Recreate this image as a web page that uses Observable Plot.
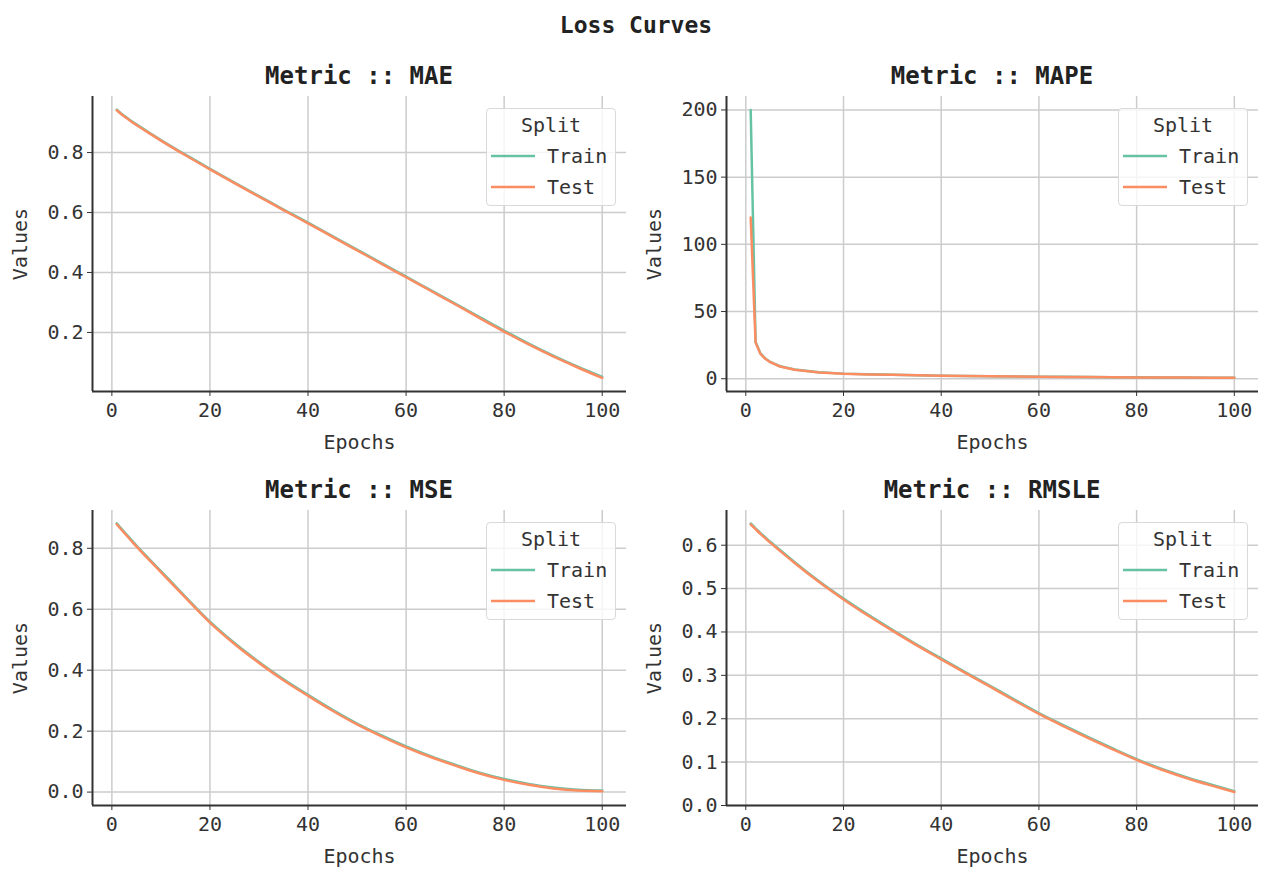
<!DOCTYPE html>
<html>
<head>
<meta charset="utf-8">
<script src="https://cdn.jsdelivr.net/npm/d3@7"></script>
<script src="https://cdn.jsdelivr.net/npm/@observablehq/plot@0.6"></script>
<style>
  html, body { margin: 0; padding: 0; background: #fff; }
  #root { position: relative; width: 1263px; height: 869px; background: #fff; font-family: "DejaVu Sans Mono", monospace; color: #222; overflow: hidden; }
  .title { position: absolute; font-weight: bold; font-size: 23px; line-height: 26px; white-space: nowrap; }
  .ptitle { position: absolute; text-align: center; font-weight: bold; font-size: 24px; line-height: 26px; white-space: nowrap; }
  .panel { position: absolute; }
  .legend { position: absolute; width: 130px; height: 98px; box-sizing: border-box; border: 1px solid #d9d9d9; border-radius: 4px; background: rgba(255,255,255,0.8); }
</style>
</head>
<body>
<div id="root"></div>
<script>
// ---- data ----
const epochs = [1, 2, 3, 4, 5, 7, 10, 15, 20, 25, 30, 35, 40, 45, 50, 55, 60, 65, 70, 75, 80, 85, 90, 95, 100];
const splits = ["Train", "Test"];
const metricNames = ["MAE", "MAPE", "MSE", "RMSLE"];
const xTicks = [0, 20, 40, 60, 80, 100];

const maeTrain = [0.943, 0.929, 0.917, 0.905, 0.894, 0.873, 0.842, 0.793, 0.746, 0.700, 0.655, 0.610, 0.566, 0.521, 0.476, 0.431, 0.386, 0.341, 0.296, 0.251, 0.206, 0.163, 0.123, 0.086, 0.052];
const maeTest  = [0.941, 0.927, 0.915, 0.903, 0.892, 0.871, 0.840, 0.791, 0.744, 0.698, 0.653, 0.608, 0.564, 0.519, 0.474, 0.429, 0.384, 0.339, 0.294, 0.248, 0.203, 0.160, 0.120, 0.083, 0.048];

const mapeTrain = [200, 27.5, 18.8, 15.0, 12.5, 9.3, 6.9, 4.8, 3.8, 3.3, 2.95, 2.55, 2.25, 2.05, 1.85, 1.7, 1.55, 1.4, 1.3, 1.15, 1.05, 0.95, 0.9, 0.8, 0.75];
const mapeTest  = [120, 27.0, 18.5, 14.8, 12.3, 9.1, 6.7, 4.7, 3.7, 3.2, 2.9, 2.5, 2.2, 2.0, 1.8, 1.65, 1.5, 1.35, 1.25, 1.1, 1.0, 0.9, 0.85, 0.75, 0.7];

const mseTrain = [0.882, 0.863, 0.845, 0.827, 0.809, 0.775, 0.725, 0.641, 0.559, 0.489, 0.427, 0.370, 0.319, 0.270, 0.225, 0.186, 0.150, 0.118, 0.090, 0.064, 0.043, 0.027, 0.015, 0.008, 0.005];
const mseTest  = [0.879, 0.860, 0.842, 0.824, 0.806, 0.772, 0.722, 0.638, 0.556, 0.486, 0.424, 0.367, 0.316, 0.267, 0.222, 0.183, 0.147, 0.115, 0.087, 0.061, 0.040, 0.024, 0.012, 0.005, 0.003];

const rmsleTrain = [0.650, 0.639, 0.628, 0.618, 0.608, 0.589, 0.561, 0.517, 0.477, 0.440, 0.405, 0.371, 0.339, 0.307, 0.276, 0.244, 0.213, 0.185, 0.158, 0.132, 0.107, 0.085, 0.066, 0.049, 0.033];
const rmsleTest  = [0.648, 0.637, 0.626, 0.616, 0.606, 0.587, 0.559, 0.515, 0.475, 0.438, 0.403, 0.369, 0.337, 0.305, 0.274, 0.242, 0.211, 0.183, 0.156, 0.130, 0.105, 0.083, 0.064, 0.047, 0.031];

const maeTicks = [0.2, 0.4, 0.6, 0.8];
const mapeTicks = [0, 50, 100, 150, 200];
const mseTicks = [0.0, 0.2, 0.4, 0.6, 0.8];
const rmsleTicks = [0.0, 0.1, 0.2, 0.3, 0.4, 0.5, 0.6];

// ---- styling ----
const COLORS = {Train: "#66c2a5", Test: "#fc8d62"};
const FONT = "DejaVu Sans Mono";
const root = document.getElementById("root");

const mainTitle = document.createElement("div");
mainTitle.className = "title";
mainTitle.textContent = "Loss Curves";
mainTitle.style.left = "636px";
mainTitle.style.top = "12px";
mainTitle.style.transform = "translateX(-50%)";
root.appendChild(mainTitle);

function rows(train, test) {
  const out = [];
  epochs.forEach((e, i) => out.push({epoch: e, value: train[i], split: "Train"}));
  epochs.forEach((e, i) => out.push({epoch: e, value: test[i], split: "Test"}));
  return out;
}

const panels = [
  {name: metricNames[0], train: maeTrain, test: maeTest, ticks: maeTicks, domain: [0.003, 0.987], fmt: d => d.toFixed(1), col: 0, row: 0, curve: "monotone-x"},
  {name: metricNames[1], train: mapeTrain, test: mapeTest, ticks: mapeTicks, domain: [-9.5, 210], fmt: d => String(d), col: 1, row: 0, curve: "linear"},
  {name: metricNames[2], train: mseTrain, test: mseTest, ticks: mseTicks, domain: [-0.044, 0.924], fmt: d => d.toFixed(1), col: 0, row: 1, curve: "monotone-x"},
  {name: metricNames[3], train: rmsleTrain, test: rmsleTest, ticks: rmsleTicks, domain: [0.0, 0.68], fmt: d => d.toFixed(1), col: 1, row: 1, curve: "monotone-x"}
];

const ML = 92, MR = 5, MT = 10, MB = 62, PH = 295;
const xDomain = [-3.95, 104.95];

panels.forEach(p => {
  const svgLeft = p.col === 0 ? 0 : 634;
  const width = p.col === 0 ? 631 : 629;
  const plotTop = p.row === 0 ? 96 : 510;
  const svgTop = plotTop - MT;
  const data = rows(p.train, p.test);

  const chart = Plot.plot({
    width,
    height: MT + PH + MB,
    marginLeft: ML, marginRight: MR, marginTop: MT, marginBottom: MB,
    style: {fontFamily: FONT, fontSize: "20px", color: "#333", background: "transparent", overflow: "visible"},
    x: {domain: xDomain},
    y: {domain: p.domain},
    marks: [
      Plot.gridX(xTicks, {stroke: "#cccccc", strokeOpacity: 1, strokeWidth: 1.5}),
      Plot.gridY(p.ticks, {stroke: "#cccccc", strokeOpacity: 1, strokeWidth: 1.5}),
      Plot.line(data.filter(d => d.split === "Train"), {x: "epoch", y: "value", stroke: COLORS.Train, strokeWidth: 2.5, curve: p.curve}),
      Plot.line(data.filter(d => d.split === "Test"), {x: "epoch", y: "value", stroke: COLORS.Test, strokeWidth: 2.5, curve: p.curve}),
      Plot.ruleX([xDomain[0]], {stroke: "#333", strokeWidth: 2}),
      Plot.ruleY([p.domain[0]], {stroke: "#333", strokeWidth: 2}),
      Plot.axisX(xTicks, {tickSize: 5, tickPadding: 6, tickFormat: d => String(d), label: "Epochs", labelAnchor: "center", labelArrow: "none", labelOffset: 57}),
      Plot.axisY(p.ticks, {tickSize: 5, tickPadding: 4, tickFormat: p.fmt, label: "Values", labelAnchor: "center", labelArrow: "none", labelOffset: 80})
    ]
  });
  const wrap = document.createElement("div");
  wrap.className = "panel";
  wrap.style.left = svgLeft + "px";
  wrap.style.top = svgTop + "px";
  wrap.appendChild(chart);
  root.appendChild(wrap);

  const axLeft = svgLeft + ML;
  const axRight = svgLeft + width - MR;

  const t = document.createElement("div");
  t.className = "ptitle";
  t.textContent = "Metric :: " + p.name;
  t.style.left = axLeft + "px";
  t.style.width = (axRight - axLeft) + "px";
  t.style.top = (plotTop - 33) + "px";
  root.appendChild(t);

  const lg = document.createElement("div");
  lg.className = "legend";
  lg.style.left = (axRight - 10 - 130) + "px";
  lg.style.top = (plotTop + 12) + "px";
  const ns = "http://www.w3.org/2000/svg";
  const s = document.createElementNS(ns, "svg");
  s.setAttribute("width", 128);
  s.setAttribute("height", 96);
  s.style.position = "absolute";
  s.style.left = "0px";
  s.style.top = "0px";
  const head = document.createElementNS(ns, "text");
  head.setAttribute("x", 64);
  head.setAttribute("y", 16);
  head.setAttribute("text-anchor", "middle");
  head.setAttribute("dominant-baseline", "central");
  head.setAttribute("font-family", FONT);
  head.setAttribute("font-size", "20px");
  head.setAttribute("fill", "#333");
  head.textContent = "Split";
  s.appendChild(head);
  splits.forEach((sp, i) => {
    const y = 47 + i * 31;
    const ln = document.createElementNS(ns, "line");
    ln.setAttribute("x1", 4); ln.setAttribute("x2", 48);
    ln.setAttribute("y1", y); ln.setAttribute("y2", y);
    ln.setAttribute("stroke", COLORS[sp]);
    ln.setAttribute("stroke-width", 2.5);
    s.appendChild(ln);
    const tx = document.createElementNS(ns, "text");
    tx.setAttribute("x", 60);
    tx.setAttribute("y", y);
    tx.setAttribute("dominant-baseline", "central");
    tx.setAttribute("font-family", FONT);
    tx.setAttribute("font-size", "20px");
    tx.setAttribute("fill", "#333");
    tx.textContent = sp;
    s.appendChild(tx);
  });
  lg.appendChild(s);
  root.appendChild(lg);
});
</script>
</body>
</html>
